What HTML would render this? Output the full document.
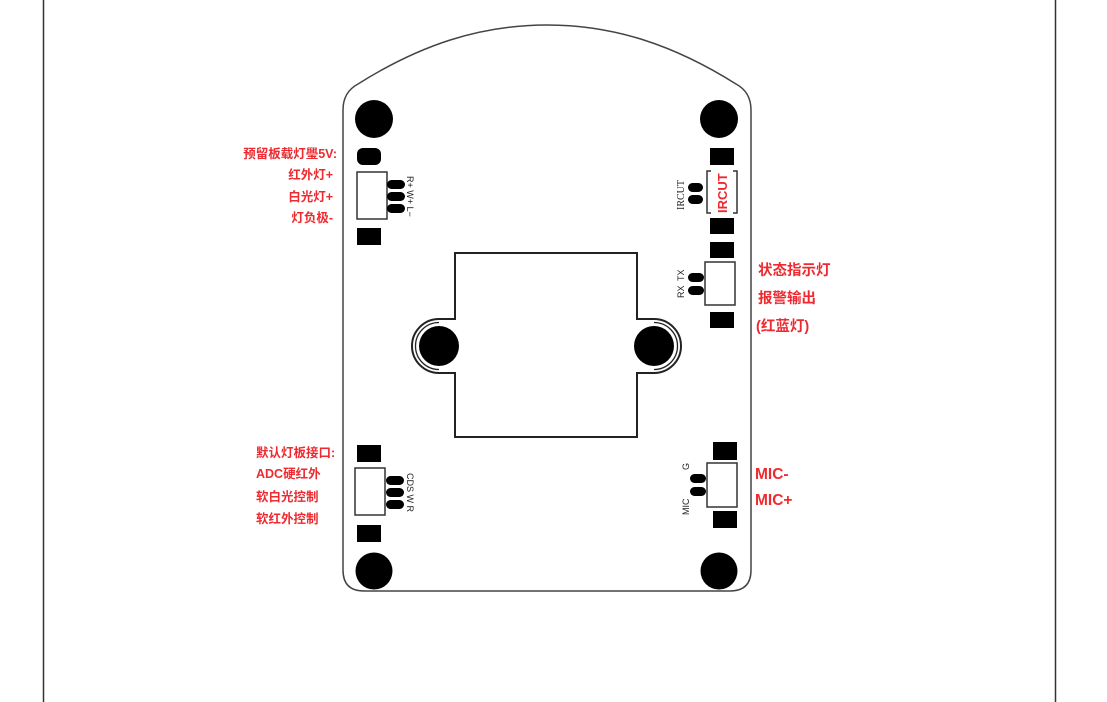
<!DOCTYPE html>
<html><head><meta charset="utf-8"><style>
html,body{margin:0;padding:0;background:#fff;width:1107px;height:702px;overflow:hidden}
svg{display:block}
.r{fill:#ee2a30;font-family:"Liberation Sans","Noto Sans CJK SC",sans-serif;font-weight:bold}
.s{fill:#222;font-family:"Liberation Sans",sans-serif;font-size:9px}
</style></head><body>
<svg width="1107" height="702" viewBox="0 0 1107 702">
<line x1="43.5" y1="0" x2="43.5" y2="702" stroke="#333" stroke-width="1.5"/>
<line x1="1055.5" y1="0" x2="1055.5" y2="702" stroke="#333" stroke-width="1.5"/>
<!-- board -->
<path d="M343,110 Q343,92 358,84 C420,45 480,25 547,25 C614,25 674,45 736,84 Q751,92 751,110 L751,570 Q751,591 730,591 L364,591 Q343,591 343,570 Z" fill="none" stroke="#444" stroke-width="1.5"/>
<!-- corner holes -->
<circle cx="374" cy="119" r="19"/><circle cx="719" cy="119" r="19"/>
<circle cx="374" cy="571" r="18.5"/><circle cx="719" cy="571" r="18.5"/>
<!-- center window -->
<path d="M455,253 L637,253 L637,319 L654,319 A27,27 0 0 1 654,373 L637,373 L637,437 L455,437 L455,373 L439,373 A27,27 0 0 1 439,319 L455,319 Z" fill="none" stroke="#222" stroke-width="2"/>
<path d="M439,322.5 A23.5,23.5 0 0 0 439,369.5 M654,322.5 A23.5,23.5 0 0 1 654,369.5" fill="none" stroke="#222" stroke-width="1.3"/>
<circle cx="439" cy="346" r="20"/><circle cx="654" cy="346" r="20"/>
<!-- top-left component -->
<rect x="357" y="148" width="24" height="17" rx="6"/>
<rect x="357" y="172" width="30" height="47" fill="#fff" stroke="#333" stroke-width="1.5"/>
<rect x="387" y="180" width="18" height="9" rx="4.5"/>
<rect x="387" y="192" width="18" height="9" rx="4.5"/>
<rect x="387" y="204" width="18" height="9" rx="4.5"/>
<rect x="357" y="228" width="24" height="17"/>
<text class="s" transform="translate(407,176) rotate(90)">R+ W+ L−</text>
<!-- top-right component -->
<rect x="710" y="148" width="24" height="17"/>
<path d="M711,171 L707,171 L707,213 L711,213 M733,171 L737,171 L737,213 L733,213" fill="none" stroke="#333" stroke-width="1.5"/>
<text class="r" font-size="13" transform="translate(727,213) rotate(-90)">IRCUT</text>
<rect x="688" y="183" width="15" height="9" rx="4.5"/>
<rect x="688" y="195" width="15" height="9" rx="4.5"/>
<text transform="translate(684,210) rotate(-90)" style="font-family:'Liberation Serif',serif;font-size:10px;fill:#222">IRCUT</text>
<rect x="710" y="218" width="24" height="16"/>
<rect x="710" y="242" width="24" height="16"/>
<rect x="705" y="262" width="30" height="43" fill="#fff" stroke="#333" stroke-width="1.5"/>
<rect x="688" y="273" width="16" height="9" rx="4.5"/>
<rect x="688" y="286" width="16" height="9" rx="4.5"/>
<text class="s" transform="translate(684,281) rotate(-90)">TX</text>
<text class="s" transform="translate(684,298) rotate(-90)">RX</text>
<rect x="710" y="312" width="24" height="16"/>
<!-- bottom-left component -->
<rect x="357" y="445" width="24" height="17"/>
<rect x="355" y="468" width="30" height="47" fill="#fff" stroke="#333" stroke-width="1.5"/>
<rect x="386" y="476" width="18" height="9" rx="4.5"/>
<rect x="386" y="488" width="18" height="9" rx="4.5"/>
<rect x="386" y="500" width="18" height="9" rx="4.5"/>
<rect x="357" y="525" width="24" height="17"/>
<text class="s" transform="translate(407,473) rotate(90)">CDS W R</text>
<!-- bottom-right component -->
<rect x="713" y="442" width="24" height="18"/>
<rect x="707" y="463" width="30" height="44" fill="#fff" stroke="#333" stroke-width="1.5"/>
<rect x="690" y="474" width="16" height="9" rx="4.5"/>
<rect x="690" y="487" width="16" height="9" rx="4.5"/>
<rect x="713" y="511" width="24" height="17"/>
<text class="s" transform="translate(689,470) rotate(-90)">G</text>
<text class="s" transform="translate(689,515) rotate(-90)">MIC</text>
<!-- red labels left -->
<g class="r" font-size="12.5" text-anchor="end">
<text x="337" y="158">预留板载灯璺5V:</text>
<text x="333" y="179">红外灯+</text>
<text x="333" y="201">白光灯+</text>
<text x="333" y="222">灯负极-</text>
</g>
<g class="r" font-size="12.5">
<text x="256" y="457">默认灯板接口:</text>
<text x="256" y="478">ADC硬红外</text>
<text x="256" y="501">软白光控制</text>
<text x="256" y="523">软红外控制</text>
</g>
<g class="r" font-size="14.5">
<text x="758" y="275">状态指示灯</text>
<text x="758" y="303">报警输出</text>
<text x="756" y="331">(红蓝灯)</text>
</g>
<g class="r" font-size="15.5">
<text x="755" y="479">MIC-</text>
<text x="755" y="505">MIC+</text>
</g>
</svg>
</body></html>
